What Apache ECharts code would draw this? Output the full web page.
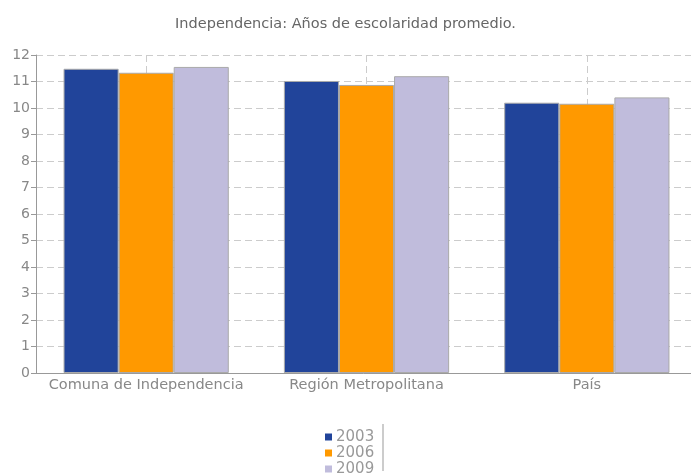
<!DOCTYPE html>
<html><head><meta charset="utf-8">
<script src="https://cdn.jsdelivr.net/npm/echarts@6/dist/echarts.min.js"></script>
<style>html,body{margin:0;padding:0;background:#fff}#c{width:691px;height:473px}</style>
</head><body><div id="c"></div>
<script>
const categories = ['Comuna de Independencia', 'Región Metropolitana', 'País'];
const seriesNames = ['2003', '2006', '2009'];
const v2003 = [11.48, 11.02, 10.2];
const v2006 = [11.33, 10.87, 10.16];
const v2009 = [11.55, 11.2, 10.4];
const yTicks = {min: 0, max: 12, interval: 1};

const colors = ['#21449A', '#FF9900', '#C0BCDC'];
const font = 'DejaVu Sans';
const chart = echarts.init(document.getElementById('c'));
const vals = [v2003, v2006, v2009];
chart.setOption({
  animation: false,
  title: {text: 'Independencia: Años de escolaridad promedio.', left: 'center', top: 12,
    textStyle: {fontFamily: font, fontSize: 14.5, fontWeight: 'normal', color: '#666'}},
  legend: {orient: 'vertical', left: 320, top: 424, height: 60, itemWidth: 7, itemHeight: 7, itemGap: 0,
    icon: 'rect', data: seriesNames, itemStyle: {borderWidth: 0},
    textStyle: {fontFamily: font, fontSize: 15, lineHeight: 16, color: '#999', padding: [0,0,0,-1]}},
  graphic: [{type: 'line', shape: {x1: 383, y1: 424, x2: 383, y2: 471}, style: {stroke: '#bbb', lineWidth: 1.5}}],
  grid: {left: 36, top: 55, width: 661, height: 318, outerBoundsMode: 'none', containLabel: false},
  xAxis: [{
    type: 'category', data: categories,
    axisLine: {lineStyle: {color: '#999'}},
    axisTick: {alignWithLabel: true, length: 5, lineStyle: {color: '#999'}},
    axisLabel: {interval: 0, fontFamily: font, fontSize: 14.5, color: '#888', margin: 5},
    splitLine: {show: false}
  }, {
    type: 'category', data: ['a','b','c','d','e','f','g'], boundaryGap: false, position: 'bottom',
    axisLine: {show: false}, axisTick: {show: false}, axisLabel: {show: false},
    splitLine: {show: true, interval: (i) => i % 2 === 1, lineStyle: {type: [7, 4], color: '#ccc'}}
  }],
  yAxis: {
    type: 'value', min: yTicks.min, max: yTicks.max, interval: yTicks.interval,
    axisLine: {show: true, lineStyle: {color: '#999'}},
    axisTick: {show: true, length: 5, lineStyle: {color: '#999'}},
    axisLabel: {fontFamily: font, fontSize: 14, color: '#888', margin: 6},
    splitLine: {lineStyle: {type: [7, 4], color: '#ccc'}}
  },
  series: seriesNames.map((n, i) => ({
    name: n, type: 'bar', data: vals[i], barGap: '0%', barCategoryGap: '25%',
    itemStyle: {color: colors[i], borderColor: '#aaa', borderWidth: 1}
  }))
});
</script></body></html>
